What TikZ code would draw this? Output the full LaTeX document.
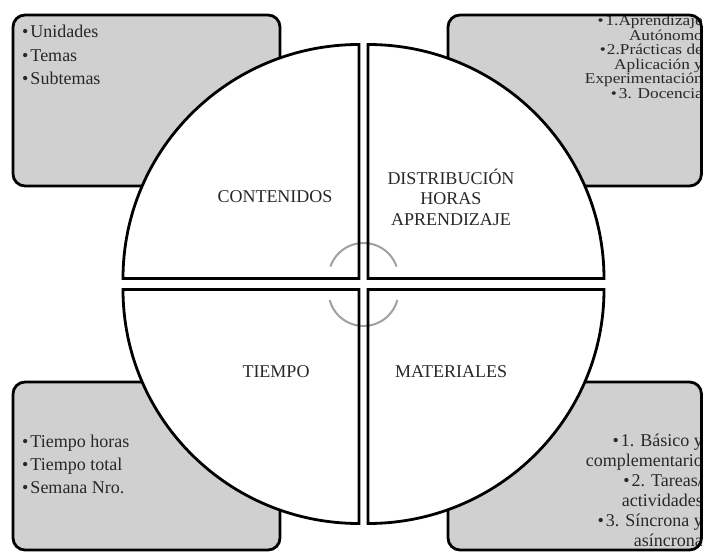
\documentclass[tikz,border=0pt]{standalone}
\usepackage{fontspec}
\setmainfont{Liberation Serif}
\newfontfamily\widefont[FakeStretch=1.15]{Liberation Serif}
\definecolor{boxgray}{RGB}{208,208,208}
\definecolor{txtdark}{RGB}{40,40,40}
\definecolor{arcgray}{RGB}{160,160,160}
\begin{document}
\begin{tikzpicture}[x=1pt,y=1pt,
  boxfill/.style={fill=boxgray, rounded corners=12pt},
  boxline/.style={draw=black, line width=2.8pt, rounded corners=12pt},
  quarterfill/.style={fill=white},
  quarterline/.style={draw=black, line width=2.8pt, line join=miter},
  linkarc/.style={draw=arcgray, line width=2pt},
  lbl/.style={font=\fontsize{18}{20.5}\selectfont, text=txtdark, inner sep=0pt, align=center},
  itm/.style={font=\fontsize{18}{20}\selectfont, text=txtdark, inner sep=0pt},
  tightitm/.style={font={\widefont\fontsize{15}{14.5}\selectfont\lineskiplimit=-30pt\lineskip=0pt}, text=txtdark, inner sep=0pt, align=right},
]
\useasboundingbox (0,0) rectangle (704,552);

% boxes (fill)
\path[boxfill] (13,366) rectangle (280,537);
\path[boxfill] (448,366) rectangle (701.5,537);
\path[boxfill] (13,2) rectangle (280,170);
\path[boxfill] (448,2) rectangle (701.5,170);

% top-left items
\node[itm, anchor=base west] (tl1) at (22,514) {\textbullet\hspace{2pt}Unidades};
\node[itm, anchor=base west] (tl2) at (22,490) {\textbullet\hspace{2pt}Temas};
\node[itm, anchor=base west] (tl3) at (22,467) {\textbullet\hspace{2pt}Subtemas};

% top-right items
\node[tightitm, anchor=north east] (tr) at (703,537) {\textbullet\hspace{2pt}1.Aprendizaje\\Autónomo\hspace*{7pt}\\\textbullet\hspace{1pt}2.Prácticas de\\Aplicación y\\Experimentación\\\textbullet\hspace{2pt}3. Docencia};

% bottom-left items
\node[itm, anchor=base west] (bl1) at (22,105) {\textbullet\hspace{2pt}Tiempo horas};
\node[itm, anchor=base west] (bl2) at (22,82) {\textbullet\hspace{2pt}Tiempo total};
\node[itm, anchor=base west] (bl3) at (22,59) {\textbullet\hspace{2pt}Semana Nro.};

% bottom-right items
\node[itm, anchor=base east] (br1) at (703,106) {\textbullet\hspace{2pt}1. Básico y};
\node[itm, anchor=base east] (br2) at (703,86) {complementario};
\node[itm, anchor=base east] (br3) at (703,66) {\textbullet\hspace{2pt}2. Tareas/};
\node[itm, anchor=base east] (br4) at (703,46) {actividades};
\node[itm, anchor=base east] (br5) at (703,26) {\textbullet\hspace{2pt}3. Síncrona y};
\node[itm, anchor=base east] (br6) at (703,6) {asíncrona};

% box outlines
\path[boxline] (13,366) rectangle (280,537);
\path[boxline] (448,366) rectangle (701.5,537);
\path[boxline] (13,2) rectangle (280,170);
\path[boxline] (448,2) rectangle (701.5,170);

% quarter fills
\path[quarterfill] (359,273.5) -- (123,273.5) arc[start angle=180, end angle=90, x radius=236, y radius=234] -- cycle;
\path[quarterfill] (368,273.5) -- (368,507.5) arc[start angle=90, end angle=0, x radius=236, y radius=234] -- cycle;
\path[quarterfill] (359,262.5) -- (123,262.5) arc[start angle=180, end angle=270, x radius=236, y radius=234] -- cycle;
\path[quarterfill] (368,262.5) -- (604,262.5) arc[start angle=0, end angle=-90, x radius=236, y radius=234] -- cycle;

% linking arcs
\draw[linkarc] (363.5,274) ++(19:35) arc[start angle=19, end angle=161, radius=35];
\draw[linkarc] (363.5,261) ++(195:35) arc[start angle=195, end angle=345, radius=35];

% quarter outlines
\path[quarterline] (359,273.5) -- (123,273.5) arc[start angle=180, end angle=90, x radius=236, y radius=234] -- cycle;
\path[quarterline] (368,273.5) -- (368,507.5) arc[start angle=90, end angle=0, x radius=236, y radius=234] -- cycle;
\path[quarterline] (359,262.5) -- (123,262.5) arc[start angle=180, end angle=270, x radius=236, y radius=234] -- cycle;
\path[quarterline] (368,262.5) -- (604,262.5) arc[start angle=0, end angle=-90, x radius=236, y radius=234] -- cycle;

% labels
\node[lbl] (cont) at (275,355) {CONTENIDOS};
\node[lbl] (dist) at (451,355) {DISTRIBUCIÓN\\HORAS\\APRENDIZAJE};
\node[lbl] (tiem) at (276,180) {TIEMPO};
\node[lbl] (mate) at (451,180) {MATERIALES};
\end{tikzpicture}
\end{document}
